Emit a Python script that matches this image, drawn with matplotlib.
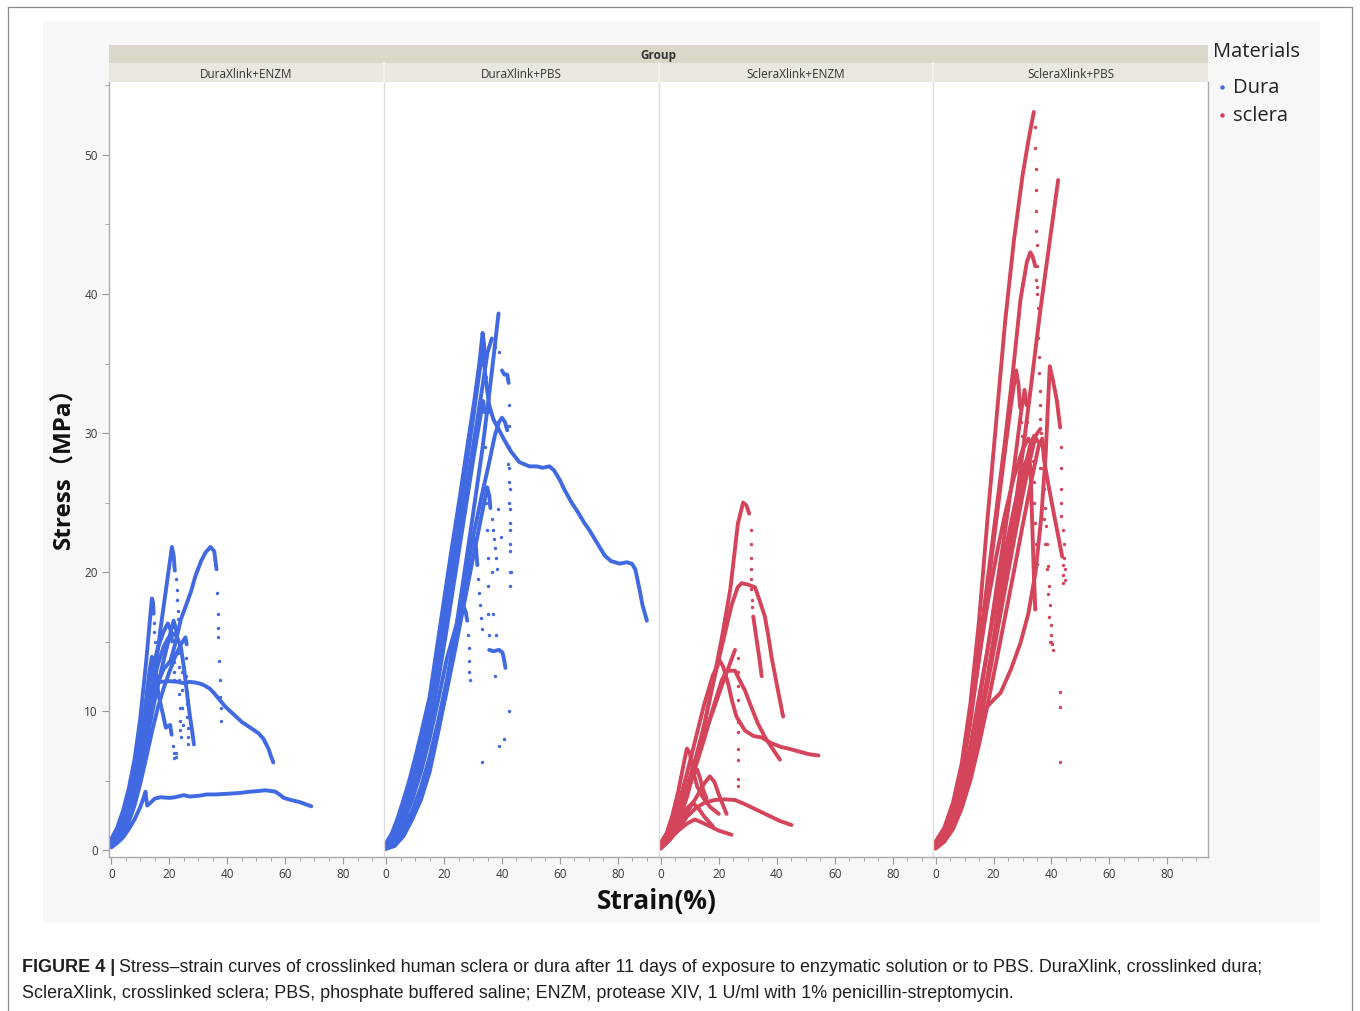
import matplotlib
matplotlib.use("Agg")
import matplotlib.pyplot as plt
from matplotlib.patches import Rectangle
from matplotlib.lines import Line2D
from matplotlib.ticker import MultipleLocator

W, H = 1360, 1011
BLUE = "#4169E1"
RED = "#D4445A"

groups = ["DuraXlink+ENZM", "DuraXlink+PBS", "ScleraXlink+ENZM", "ScleraXlink+PBS"]
materials = ["Dura", "sclera"]
group_material = ["Dura", "Dura", "sclera", "sclera"]
x_ticks = [0, 20, 40, 60, 80]
y_ticks = [0, 10, 20, 30, 40, 50]

# ---- DuraXlink+ENZM : (strain %, stress MPa) ----
dura_enzm_curves = [
    ([0, 2, 4, 6, 8, 10, 11.7, 14, 16.9, 20.9, 21.5, 21.9],
     [0.6, 1.3, 2.3, 3.5, 4.8, 6.2, 7.4, 11, 15.8, 21.8, 21.2, 20.1]),
    ([0, 2, 4, 6, 8, 10, 12, 13.3, 14, 14.4, 14.6],
     [0.8, 1.6, 2.8, 4.4, 6.5, 9.5, 13.5, 16.5, 18.1, 17.8, 17.0]),
    ([0, 2, 4, 6, 8, 10, 12, 14, 16, 18, 20.4, 22, 24, 25.6, 27.5, 29, 31, 32.5, 34.2, 35.5, 36.3],
     [0.4, 0.9, 1.7, 2.8, 4.2, 6, 8.3, 10.5, 12, 13, 13.6, 14.8, 16.6, 17.5, 18.6, 19.7, 20.8, 21.4, 21.8, 21.5, 20.2]),
    ([0, 2, 4, 6, 8, 10, 11.2, 11.8, 12.1, 12.4, 13.5, 15, 17, 20, 22, 25, 27, 30, 33, 36, 40, 44, 48,
      51, 53, 55, 56.6, 58, 59.5, 62, 65, 67, 69],
     [0.2, 0.5, 0.9, 1.5, 2.2, 3.1, 3.8, 4.2, 3.6, 3.2, 3.4, 3.7, 3.8, 3.75, 3.8, 3.95, 3.85, 3.9, 4.0, 4.0,
      4.05, 4.1, 4.2, 4.25, 4.3, 4.25, 4.2, 4.0, 3.75, 3.6, 3.45, 3.3, 3.15]),
    ([0, 2, 4, 6, 8, 10, 12, 13.5, 14.5, 15.5, 17, 20, 23, 25, 27, 29, 31, 32.5, 34, 35, 37, 39.4, 42,
      45.1, 48, 50.8, 52.5, 54.2, 55, 55.9],
     [0.4, 1, 1.8, 2.9, 4.3, 6.1, 8.4, 10.5, 11.6, 12, 12.1, 12.15, 12.1, 12.0, 12.1, 12.05, 11.95, 11.8,
      11.6, 11.4, 10.9, 10.3, 9.8, 9.2, 8.8, 8.4, 8.0, 7.3, 6.8, 6.3]),
    ([0, 2, 4, 6, 8, 10, 12, 14, 16, 18, 20, 21.5, 22.3, 22.8],
     [0.3, 0.8, 1.5, 2.5, 3.8, 5.5, 7.5, 9.8, 11.8, 13.6, 15.3, 16.5, 15.9, 15.1]),
    ([0, 2, 4, 6, 8, 10, 12, 13, 14, 14.8, 15.5, 16.2, 17, 18, 18.8, 19.5, 20.3, 20.8],
     [0.6, 1.3, 2.3, 3.6, 5.3, 7.6, 10.8, 12.6, 13.9, 13.5, 12.5, 11.3, 10.5, 9.6, 8.8, 8.9, 9.0, 8.3]),
    ([0, 2, 4, 6, 8, 10, 12, 14, 16, 18, 20, 22, 24, 25.6, 26],
     [0.2, 0.6, 1.2, 2, 3.2, 4.8, 6.6, 8.5, 10.2, 11.6, 12.8, 13.9, 14.8, 15.3, 14.8]),
    ([0, 2, 4, 6, 8, 10, 12, 14, 16, 18, 19.5, 21, 22.5, 24, 25, 26, 27, 28, 28.5],
     [0.5, 1.1, 2, 3.2, 4.7, 6.8, 9.2, 11.5, 13.3, 14.6, 15.2, 15.6, 15.4, 14.6, 13.2, 11.5, 9.8, 8.4, 7.6]),
    ([0, 2, 4, 6, 8, 10, 12, 14, 16, 18, 19.5, 20.5, 21],
     [0.7, 1.4, 2.5, 3.9, 5.7, 8, 10.6, 12.8, 14.5, 15.7, 16.3, 15.8, 15.0]),
]
dura_enzm_dots_x = [22.2, 22.5, 22.8, 23, 23, 14.7, 14.8, 15, 36.6, 36.7, 36.8, 36.9, 37.3, 37.5, 37.6,
                    37.8, 37.8, 23.1, 23.3, 23.4, 23.5, 23.6, 23.7, 23.8, 23.9, 21.3, 21.6, 21.6, 25.8,
                    25.9, 26, 26.1, 26.2, 26.3, 26.4, 26.5, 21.3, 21.5, 21.7, 21.8, 22.3, 22.4, 24.4,
                    24.5, 24.5, 24.6]
dura_enzm_dots_y = [19.5, 18.7, 18, 17.2, 16.6, 16.3, 15.7, 15, 18.5, 17, 16, 15.3, 13.6, 12.2, 11,
                    10.2, 9.3, 14.2, 13.2, 12.2, 11.2, 10.2, 9.3, 8.6, 8.1, 7.5, 7.0, 6.6, 13.8,
                    12.5, 11.4, 10.5, 9.6, 8.8, 8.1, 7.6, 14.2, 13.5, 12.8, 12.2, 7.0, 6.7, 12.8,
                    11.5, 10.2, 9.0]

# ---- DuraXlink+PBS ----
dura_pbs_curves = [
    ([0, 2.8, 6, 9, 11.4, 14, 16, 18.3, 21, 23.5, 26, 28.7, 31, 33.2, 35, 37, 38.8],
     [0.1, 0.3, 1.2, 2.6, 3.6, 5.6, 7.4, 9.4, 12.2, 15.1, 18.5, 22.3, 25.6, 28.8, 31.8, 35.3, 38.6]),
    ([0, 2, 4, 6, 8, 10, 12, 15, 17.5, 20, 22.5, 25.3, 28, 30.5, 32.3, 33.3, 33.8, 34.2],
     [0.5, 1.2, 2.3, 3.6, 5, 6.6, 8.3, 11, 14.5, 18, 21.5, 25.2, 29, 32.4, 35.2, 37.2, 36.4, 35.2]),
    ([0, 2, 4, 6, 8, 10, 12, 15, 18, 21, 24, 27, 30, 32.5, 33.5, 34.3, 35.6, 37, 38, 40.8, 43, 46, 49.5,
      52, 54, 56.4, 58, 60, 61.6, 64, 66.5, 68.5, 70.2, 72.5, 75.4, 77.5, 80.6, 83, 84.8, 86, 87.5, 88.5, 90],
     [0.3, 0.9, 1.8, 2.9, 4.2, 5.6, 7.3, 10.2, 14, 18.2, 22.3, 26.6, 31, 34.8, 35.7, 34, 32, 31, 30.6,
      29.5, 28.7, 27.9, 27.6, 27.6, 27.5, 27.6, 27.3, 26.6, 25.9, 25, 24.2, 23.5, 23.0, 22.2, 21.2, 20.8,
      20.6, 20.7, 20.6, 20.2, 18.7, 17.6, 16.5]),
    ([0, 2, 4, 6, 8, 10, 12, 15, 18, 21, 24, 27, 30, 33, 35, 36.5],
     [0.2, 0.7, 1.5, 2.5, 3.7, 5, 6.6, 9.3, 12.8, 16.8, 20.8, 25, 29, 33, 35.8, 36.8]),
    ([40, 40.8, 41.8, 42.3], [34.5, 34.2, 34.2, 33.6]),
    ([0, 3, 6, 9, 12, 15, 18, 21, 24, 27, 30, 33, 35.5, 37.5, 39, 40, 41, 41.8],
     [0.1, 0.3, 1, 2.2, 3.6, 5.6, 8.5, 11.8, 15.3, 19, 22.5, 25.5, 27.8, 29.8, 30.8, 31.1, 30.8, 30.2]),
    ([0, 3, 6, 9, 12, 15, 18, 21, 24, 27, 30, 32.5, 34.9, 35.6, 36],
     [0.1, 0.4, 1.1, 2.3, 3.9, 6, 8.6, 11.5, 14.6, 17.8, 21, 23.6, 26.1, 25.5, 24.6]),
    ([0, 3, 6, 9, 12, 15, 18, 21, 24, 27, 29.5, 30.4, 31, 31.5],
     [0.2, 0.6, 1.5, 2.8, 4.5, 6.7, 9.3, 12.2, 15.5, 19, 22, 22.4, 21.8, 20.5]),
    ([0, 3, 6, 9, 12, 15, 18, 21, 24, 25.7, 27, 27.5, 28],
     [0.3, 0.9, 2, 3.6, 5.6, 8, 10.8, 13.8, 16, 17, 17.4, 17.1, 16.5]),
    ([0, 3, 6, 9, 12, 15, 18, 21, 24, 27, 30, 32.8, 33.5, 34],
     [0.4, 1.1, 2.3, 4, 6.1, 8.8, 12.2, 16, 20, 24, 28, 31.5, 32.3, 31.5]),
    ([35.6, 37, 39, 40.2, 40.8, 41.2], [14.4, 14.3, 14.4, 14.2, 13.6, 13.1]),
]
dura_pbs_dots_x = [34.5, 34.8, 35.2, 37.5, 38.9, 42.5, 42.5, 42.5, 42.5, 42.6, 42.6, 42.7, 42.7, 42.8,
                   42.9, 42, 42.2, 42.3, 42.5, 42.6, 42.8, 43, 36.4, 36.8, 37.2, 37.6, 37.9, 38.2, 31.8,
                   32, 32.3, 32.8, 33.2, 28.3, 28.5, 28.6, 28.7, 28.8, 34.3, 34.5, 34.6, 34.8, 35, 35.2,
                   35.3, 35.5, 33.2, 42.5, 40.8, 39.1, 37, 38, 37.5, 36.5, 38.6, 39.5]
dura_pbs_dots_y = [34, 33, 31.5, 36.2, 35.8, 32, 30.5, 29, 27.5, 26, 24.5, 23, 21.5, 20, 19, 29, 27.8,
                   26.5, 25, 23.5, 22, 20, 23.8, 23, 22.4, 21.7, 21, 20.2, 19.5, 18.5, 17.6, 16.7, 15.9,
                   15.5, 14.5, 13.6, 12.8, 12.2, 29, 27, 25, 23, 21, 19, 17, 15.5, 6.3, 10, 8, 7.5, 17,
                   15.5, 12.5, 20, 24.5, 22.5]

# ---- ScleraXlink+ENZM ----
sclera_enzm_curves = [
    ([0, 3, 6, 9, 12, 15, 18, 21, 24, 26.6, 28.4, 29.5, 30.5],
     [0.2, 0.8, 2, 3.8, 6.2, 9, 12, 15.2, 18.8, 23.5, 25, 24.8, 24.2]),
    ([31.9, 33, 34, 34.8], [16.8, 15.2, 13.8, 12.5]),
    ([0, 3, 6, 9, 12, 15, 17.5, 21, 24.4, 26.5, 27.9, 30, 32.5, 34, 35.9, 37, 38.2, 40.4, 42.2],
     [0.3, 1.2, 2.6, 4.5, 6.6, 9, 11.5, 14.6, 17.6, 18.9, 19.2, 19.1, 18.9, 18, 16.8, 15.5, 13.9, 11.5, 9.6]),
    ([0, 3, 6, 9, 12, 15, 18, 21, 24, 25.6],
     [0.4, 1.2, 2.6, 4.5, 6.5, 8.3, 10, 11.8, 13.5, 14.4]),
    ([0, 3, 6, 9, 12, 15, 18, 20.4, 21.5, 23.2, 24.5, 26.1, 29, 32, 34.8, 38, 41.7, 44, 47.5, 51, 54.4],
     [0.5, 1.5, 3.2, 5.5, 8, 10.5, 12.6, 13.6, 13.2, 12, 10.8, 9.6, 8.6, 8.2, 8.1, 7.7, 7.4, 7.3, 7.1, 6.9, 6.8]),
    ([0, 3, 6, 9, 12, 15, 18, 21, 22.7, 25.6, 27, 29, 31, 33.5, 36, 38.2, 41.1],
     [0.3, 1, 2.3, 4, 6, 8, 10.2, 12.2, 12.9, 12.9, 12.3, 11.5, 10.4, 9.1, 8.1, 7.4, 6.5]),
    ([0, 2, 4, 6, 8, 9, 10, 11, 12.5, 14.5, 17, 20],
     [0.5, 1.2, 2.5, 4.2, 6.3, 7.3, 7.0, 5.8, 4.6, 3.8, 3.1, 2.6]),
    ([0, 3, 6, 9, 12, 15, 16.9, 18.5, 20, 21.5, 22.7],
     [0.2, 0.8, 1.7, 2.7, 3.7, 4.8, 5.3, 4.9, 4.0, 3.2, 2.6]),
    ([0, 3, 6, 9, 12, 15, 18.6, 22, 25.6, 29, 33, 37, 41, 45.1],
     [0.1, 0.7, 1.5, 2.4, 3.0, 3.4, 3.6, 3.65, 3.6, 3.3, 2.9, 2.5, 2.1, 1.8]),
    ([0, 3, 6, 9, 11, 13, 15, 18],
     [0.3, 1.2, 2.2, 3, 3.4, 3.0, 2.4, 1.7]),
    ([0, 3, 6, 9, 11.7, 14, 17, 20, 24.4],
     [0.2, 0.8, 1.4, 1.9, 2.2, 2.0, 1.7, 1.4, 1.1]),
    ([0, 3, 6, 9, 11, 12.5, 13.5, 14.5, 15.8],
     [0.4, 1.3, 2.6, 4.2, 5.3, 5.8, 5.2, 4.4, 3.7]),
]
sclera_enzm_dots_x = [31, 31, 31.1, 31.1, 31.2, 31.2, 31.3, 31.3, 26.5, 26.6, 26.6, 26.6, 26.6, 26.6,
                      26.7, 26.7, 26.6, 26.6]
sclera_enzm_dots_y = [23, 22, 21, 20.2, 19.5, 18.8, 18, 17.5, 13.8, 12.8, 11.8, 10.8, 9.2, 8.5, 7.3,
                      6.5, 5.1, 4.6]

# ---- ScleraXlink+PBS ----
sclera_pbs_curves = [
    ([0, 3, 6, 9, 12, 15, 18, 21, 24, 27, 30, 32, 33.9],
     [0.6, 1.6, 3.4, 6.2, 10.5, 16.5, 24, 31, 38, 43.8, 48.5, 51, 53.1]),
    ([0, 3, 6, 9, 12, 15, 18, 21, 24, 27, 30, 33, 36, 39, 42.3],
     [0.2, 0.8, 1.8, 3.4, 5.8, 8.8, 12.5, 16.5, 20.5, 24, 28.5, 33.5, 38.6, 43.2, 48.2]),
    ([0, 3, 6, 9, 12, 15, 18, 21, 24, 26.9, 29.3, 31.5, 32.7, 33.5, 34.4],
     [0.5, 1.4, 3, 5.6, 9.5, 14.5, 19.5, 24.5, 29.5, 34.8, 39.6, 42.3, 43, 42.7, 42]),
    ([0, 3, 6, 9, 12, 15, 17.7, 20, 22.4, 26, 29.3, 32, 34.5, 36.5, 38, 39.4, 40.5, 41.8, 43],
     [0.3, 1, 2.3, 4.3, 6.6, 8.8, 10.3, 10.8, 11.3, 13, 14.9, 17, 20, 24, 28.5, 34.8, 33.8, 32.4, 30.4]),
    ([0, 3, 6, 9, 12, 15, 18, 21, 24, 26, 27.8, 28.6, 29.2],
     [0.4, 1.3, 2.9, 5.4, 9.2, 13.8, 18.8, 23.8, 28.8, 32, 34.5, 33.5, 31.8]),
    ([0, 3, 6, 9, 12, 15, 18, 21, 24, 27, 29.5, 30.7, 31.4],
     [0.2, 0.9, 2, 4, 6.8, 10.5, 14.5, 18.8, 23, 27.4, 31.5, 33.1, 32]),
    ([0, 3, 6, 9, 12, 15, 18, 21, 24, 27, 30, 32.5, 34, 35.6],
     [0.3, 1.0, 2.2, 4.0, 6.3, 9.2, 12.5, 16, 19.5, 23, 26.5, 29, 29.8, 29.3]),
    ([0, 3, 6, 9, 12, 15, 18, 21, 24, 27, 30, 32, 32.7, 33.2, 33.8, 34.4],
     [0.4, 1.1, 2.5, 4.6, 7.5, 11, 14.5, 18, 21.5, 24.5, 27.3, 28.4, 27.6, 24.5, 20.5, 17.3]),
    ([0, 3, 6, 9, 12, 15, 18, 21, 24, 27, 30, 33, 35.5, 36.8, 37.4, 39, 41, 42.5, 43.7],
     [0.1, 0.6, 1.5, 3, 5, 7.6, 10.5, 13.6, 16.8, 20, 23.3, 26.5, 29, 29.6, 28.1, 26.2, 24, 22.4, 21.1]),
    ([0, 3, 6, 9, 12, 15, 18, 21, 24, 27, 30, 32, 33],
     [0.5, 1.4, 3.1, 5.8, 9.5, 13.8, 17.8, 21.2, 24.2, 26.8, 28.8, 29.6, 29.2]),
    ([0, 3, 6, 9, 12, 15, 18, 21, 24, 27, 30, 32.5, 34.5, 36.2],
     [0.3, 0.8, 1.9, 3.6, 5.9, 8.8, 12, 15.4, 18.8, 22.2, 25.5, 28, 29.8, 30.3]),
]
sclera_pbs_dots_x = [34.3, 34.4, 34.5, 34.6, 34.7, 34.8, 34.9, 35.0, 35.1, 34.8, 35, 35.2, 35.3, 35.5,
                     35.6, 35.8, 35.9, 36, 36.2, 36.4, 43.2, 43.3, 43.3, 43.4, 43.4, 43.8, 44.2, 44.4,
                     44.6, 44.6, 42.8, 42.8, 42.8, 29.5, 29.8, 30, 30.2, 30.4, 31.7, 31.9, 32.1, 32.3,
                     36.2, 36.8, 37.3, 37.8, 38.3, 38.8, 39.3, 39.8, 40.4, 39.6, 40.1, 43.9, 44, 44.1,
                     33.5, 33.8, 34, 34.4, 34.8, 35.1, 36.8, 37.2, 37.4, 37.7, 38, 38.4, 38.8, 39.2,
                     39.6, 39.8, 40]
sclera_pbs_dots_y = [52, 50.5, 49, 47.5, 46, 44.5, 43.5, 42, 40.5, 41, 40, 39, 38, 36.8, 35.5, 34.3, 33,
                     32, 31, 30, 29, 27.5, 26, 25, 24, 23, 22, 21, 20.2, 19.4, 11.4, 10.3, 6.3, 30.8,
                     29.8, 28.8, 27.8, 27, 30.8, 29.5, 28.3, 27.2, 27.5, 25.6, 23.8, 22, 20.2, 18.4,
                     16.8, 15.5, 14.4, 15, 14.8, 20.5, 19.8, 19.2, 28, 26.5, 25, 23.5, 22, 20.6, 29,
                     27.5, 26, 24.6, 23.3, 22, 20.4, 19, 17.6, 16.2, 15]

panel_curves = [dura_enzm_curves, dura_pbs_curves, sclera_enzm_curves, sclera_pbs_curves]
panel_dots = [(dura_enzm_dots_x, dura_enzm_dots_y), (dura_pbs_dots_x, dura_pbs_dots_y),
              (sclera_enzm_dots_x, sclera_enzm_dots_y), (sclera_pbs_dots_x, sclera_pbs_dots_y)]
colors = {"Dura": BLUE, "sclera": RED}

FONT = "Open Sans"


def fx(px):
    return px / W


def fy(py):
    return 1 - py / H


fig = plt.figure(figsize=(W / 100, H / 100), dpi=100)
fig.patch.set_facecolor("white")

# outer frame and grey panel
for xs, ys in [([8, 8], [7, H]), ([8, 1352], [7, 7]), ([1352, 1352], [7, H])]:
    fig.add_artist(Line2D([fx(v) for v in xs], [fy(v) for v in ys], color="#8a8a8a", lw=0.9))
fig.add_artist(Rectangle((fx(43), fy(922)), fx(1320) - fx(43), (922 - 22) / H,
                         transform=fig.transFigure, facecolor="#F7F7F7", edgecolor="none", zorder=0))

left, right, top, bottom = 109, 1208, 82, 857
fw = (right - left) / 4

# header strips
fig.add_artist(Rectangle((fx(left), fy(63)), (right - left) / W, 18 / H, transform=fig.transFigure,
                         facecolor="#DBD8CA", edgecolor="none"))
fig.text(fx((left + right) / 2), fy(55.5), "Group", ha="center", va="center", fontsize=8.5,
         fontweight="bold", family=FONT, color="#333333")

for i, g in enumerate(groups):
    x0 = left + i * fw
    fig.add_artist(Rectangle((fx(x0), fy(82)), fw / W, 19 / H, transform=fig.transFigure,
                             facecolor="#E9E7DF", edgecolor="none"))
    if i > 0:
        fig.add_artist(Line2D([fx(x0), fx(x0)], [fy(82), fy(63)], color="#F6F5F0", lw=1.2))
    fig.text(fx(x0 + fw / 2), fy(74), g, ha="center", va="center", fontsize=8.5,
             family=FONT, color="#333333")

    ax = fig.add_axes([fx(x0), fy(bottom), fw / W, (bottom - top) / H])
    ax.set_facecolor("white")
    c = colors[group_material[i]]
    for xs, ys in panel_curves[i]:
        ax.plot(xs, ys, color=c, lw=2.8, solid_capstyle="round", solid_joinstyle="round")
    dx, dy = panel_dots[i]
    ax.scatter(dx, dy, s=6, color=c, linewidths=0)

    ax.set_xlim(-0.8, 94)
    ax.set_ylim(-0.5, 55.25)
    ax.set_xticks(x_ticks)
    ax.xaxis.set_minor_locator(MultipleLocator(5))
    ax.tick_params(axis="x", which="major", length=5, color="#999999", labelsize=8.5,
                   labelcolor="#3a3a3a", pad=3)
    ax.tick_params(axis="x", which="minor", length=3, color="#999999")
    for lab in ax.get_xticklabels():
        lab.set_family(FONT)
    if i == 0:
        ax.set_yticks(y_ticks)
        ax.yaxis.set_minor_locator(MultipleLocator(5))
        ax.tick_params(axis="y", which="major", length=5, color="#999999", labelsize=8.5,
                       labelcolor="#3a3a3a", pad=3)
        ax.tick_params(axis="y", which="minor", length=3, color="#999999")
        for lab in ax.get_yticklabels():
            lab.set_family(FONT)
        ax.spines["left"].set_color("#AAAAAA")
    else:
        ax.tick_params(axis="y", which="both", left=False, labelleft=False)
        ax.spines["left"].set_color("#DDDDDD")
    ax.spines["top"].set_visible(False)
    ax.spines["right"].set_visible(i == 3)
    ax.spines["right"].set_color("#AAAAAA")
    ax.spines["bottom"].set_color("#AAAAAA")
    for s in ax.spines.values():
        s.set_linewidth(1.0)

# axis titles
fig.text(fx(657), fy(902), "Strain(%)", ha="center", va="center", fontsize=19,
         fontweight="bold", family=FONT, color="#111111")
fig.text(fx(65), fy(462), "Stress（MPa）", ha="center", va="center", rotation=90, fontsize=17.5,
         fontweight="bold", family=[FONT, "Noto Sans CJK SC"], color="#111111")

# legend
fig.text(fx(1213), fy(52), "Materials", ha="left", va="center", fontsize=14.5, family=FONT,
         color="#222222")
for k, m in enumerate(materials):
    yy = 87 + k * 28
    fig.add_artist(Line2D([fx(1222)], [fy(yy)], marker="o", markersize=2.2, color=colors[m],
                          linestyle="none"))
    fig.text(fx(1233), fy(yy + 1), m, ha="left", va="center", fontsize=14.5, family=FONT,
             color="#222222")

# caption
cap_font = "Liberation Sans"
bold = fig.text(fx(22), fy(968), "FIGURE 4 |", ha="left", va="center", fontsize=13,
                fontweight="bold", family=cap_font, color="#231F20")
fig.canvas.draw()
r = fig.canvas.get_renderer()
bb = bold.get_window_extent(renderer=r)
fig.text((bb.x1 + 4) / W, fy(968),
         "Stress–strain curves of crosslinked human sclera or dura after 11 days of exposure to "
         "enzymatic solution or to PBS. DuraXlink, crosslinked dura;",
         ha="left", va="center", fontsize=12.85, family=cap_font, color="#231F20")
fig.text(fx(22), fy(993),
         "ScleraXlink, crosslinked sclera; PBS, phosphate buffered saline; ENZM, protease XIV, "
         "1 U/ml with 1% penicillin-streptomycin.",
         ha="left", va="center", fontsize=12.85, family=cap_font, color="#231F20")

fig.savefig("out.png", dpi=100)
